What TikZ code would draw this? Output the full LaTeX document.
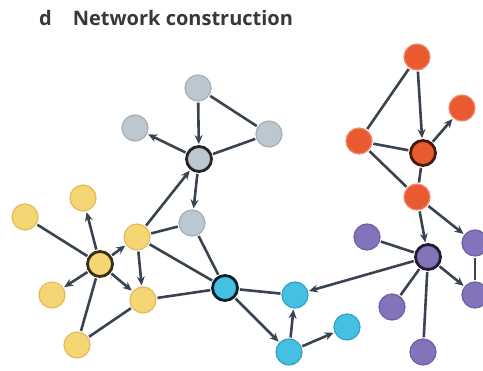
\documentclass[tikz,border=0pt]{standalone}
\usepackage{fontspec}
\setmainfont{Open Sans}
\usetikzlibrary{arrows.meta}
\definecolor{edgec}{HTML}{3A4450}
\definecolor{grayf}{HTML}{BCC7CF}\definecolor{grayd}{HTML}{A3AEB6}
\definecolor{yelf}{HTML}{F6D574}\definecolor{yeld}{HTML}{E2BB5A}
\definecolor{bluef}{HTML}{45BFE2}\definecolor{blued}{HTML}{2FA3C8}
\definecolor{redf}{HTML}{EA5A31}\definecolor{redd}{HTML}{F08A6A}
\definecolor{purf}{HTML}{8373BA}\definecolor{purd}{HTML}{6E60A6}
\tikzset{
  nd/.style={circle,minimum size=26pt,inner sep=0pt,line width=1.2pt},
  gy/.style={nd,fill=grayf,draw=grayd},
  yl/.style={nd,fill=yelf,draw=yeld},
  bl/.style={nd,fill=bluef,draw=blued},
  rd/.style={nd,fill=redf,draw=redd},
  pu/.style={nd,fill=purf,draw=purd},
  hub/.style={draw=black!85,line width=2.8pt,minimum size=25pt},
  ln/.style={draw=edgec,line width=2.6pt,shorten >=1pt,shorten <=1pt},
  ar/.style={ln,-{Stealth[length=9pt,width=8pt]}},
}
\begin{document}
\begin{tikzpicture}[x=1pt,y=-1pt]
\useasboundingbox (0,0) rectangle (483,371);
\node[anchor=base west,font=\bfseries\fontsize{20}{22}\selectfont,text=black!78,inner sep=0pt] (title) at (39,26) {d\hspace{21pt}Network construction};
% gray
\node[gy] (G1) at (198,88) {};
\node[gy] (G2) at (135,128) {};
\node[gy,hub] (G3) at (199,159) {};
\node[gy] (G4) at (269,134) {};
\node[gy] (G5) at (192,223) {};
% yellow
\node[yl] (Y1) at (83,198) {};
\node[yl] (Y2) at (25,217) {};
\node[yl,hub,draw=black!75!yeld] (Y3) at (100,264) {};
\node[yl] (Y4) at (137,237) {};
\node[yl] (Y5) at (52,295) {};
\node[yl] (Y6) at (143,300) {};
\node[yl] (Y7) at (77,345) {};
% blue
\node[bl,hub,draw=black!80!blued] (B1) at (225,288) {};
\node[bl] (B2) at (295,295) {};
\node[bl] (B3) at (289,352) {};
\node[bl] (B4) at (347,327) {};
% red
\node[rd] (R1) at (417,57) {};
\node[rd] (R2) at (462,108) {};
\node[rd] (R3) at (359,141) {};
\node[rd,hub,draw=black!70!redf] (R4) at (423,153) {};
\node[rd] (R5) at (417,197) {};
% purple
\node[pu,hub,draw=black!75!purf] (P1) at (428,257) {};
\node[pu] (P2) at (367,237) {};
\node[pu] (P3) at (475,243) {};
\node[pu] (P4) at (475,295) {};
\node[pu] (P5) at (392,307) {};
\node[pu] (P6) at (423,352) {};
% edges
\draw[ar] (G1) -- (G3);
\draw[ln] (G1) -- (G4);
\draw[ar] (G3) -- (G2);
\draw[ln] (G3) -- (G4);
\draw[ar] (G3) -- (G5);
\draw[ar] (Y4) -- (G3);
\draw[ln] (G5) -- (Y4);
\draw[ln] (G5) -- (B1);
\draw[ar] (Y3) -- (Y1);
\draw[ln] (Y2) -- (Y3);
\draw[ar] (Y3) -- (Y4);
\draw[ar] (Y3) -- (Y5);
\draw[ar] (Y3) -- (Y6);
\draw[ln] (Y3) -- (Y7);
\draw[ar] (Y4) -- (Y6);
\draw[ln] (Y4) -- (B1);
\draw[ln] (Y6) -- (B1);
\draw[ln] (Y7) -- (Y6);
\draw[ln] (B1) -- (B2);
\draw[ar] (B1) -- (B3);
\draw[ar] (B3) -- (B2);
\draw[ar] (B3) -- (B4);
\draw[ar] (P1) -- (B2);
\draw[ln] (R1) -- (R3);
\draw[ar] (R1) -- (R4);
\draw[ar] (R4) -- (R2);
\draw[ln] (R3) -- (R4);
\draw[ln] (R3) -- (R5);
\draw[ln] (R4) -- (R5);
\draw[ar] (R5) -- (P1);
\draw[ar] (R5) -- (P3);
\draw[ln] (P1) -- (P2);
\draw[ar] (P1) -- (P4);
\draw[ln] (P3) -- (P4);
\draw[ln] (P1) -- (P5);
\draw[ln] (P1) -- (P6);
\end{tikzpicture}
\end{document}
